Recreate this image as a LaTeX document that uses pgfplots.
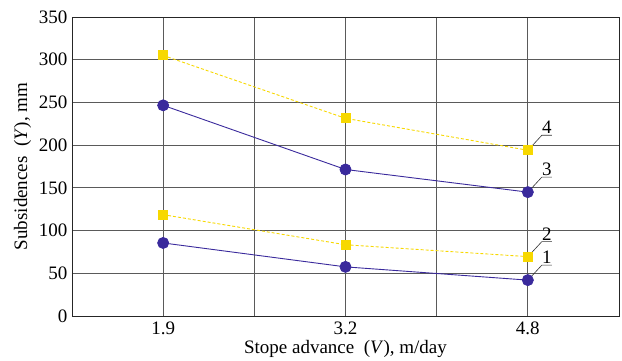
\documentclass[border=0pt]{standalone}
\usepackage{pgfplots}
\pgfplotsset{compat=1.18}
\usepackage{fontspec}
\setmainfont{Liberation Serif}
\definecolor{cblue}{HTML}{3A2A9C}
\definecolor{cyell}{HTML}{F7D800}
\definecolor{cgrid}{HTML}{5A5A5A}
\tikzset{leader/.style={black!80, line width=0.6pt}, lab/.style={midway, above, inner sep=1pt, text=black, font=\fontsize{19}{21}\selectfont}}
\begin{document}
\begin{tikzpicture}
\path[use as bounding box] (-72pt,-45pt) rectangle (550pt,316pt);
\begin{axis}[
  scale only axis, width=547pt, height=299pt,
  at={(0,0)}, anchor=south west,
  xmin=-0.5, xmax=2.5, ymin=0, ymax=350,
  xtick={0,1,2}, xticklabels={1.9,3.2,4.8},
  minor xtick={0.5,1.5},
  ytick={0,50,...,350},
  grid=both,
  major grid style={cgrid, line width=0.9pt},
  minor grid style={cgrid, line width=0.9pt},
  axis line style={black!85, line width=0.9pt},
  major tick length=0pt, minor tick length=0pt,
  tick label style={font=\fontsize{19}{21}\selectfont},
  /pgf/number format/assume math mode=true,
  yticklabel style={xshift=-1pt},
  xticklabel style={yshift=-2pt},
  label style={font=\fontsize{19}{21}\selectfont},
  xlabel={Stope advance\ \ (\textit{V}), m/day},
  ylabel={Subsidences\ \ (\textit{Y}), mm},
  xlabel style={yshift=1pt},
  ylabel style={yshift=1pt},
  clip=false,
]
\addplot[cblue, line width=0.9pt, mark=*, mark size=5.5pt, mark options={solid, fill=cblue}]
  coordinates {(0,85.5) (1,57.5) (2,42)};
\addplot[cyell, line width=0.9pt, densely dashed, mark=square*, mark size=4.5pt, mark options={solid, fill=cyell}]
  coordinates {(0,118.6) (1,83.4) (2,69.5)};
\addplot[cblue, line width=0.9pt, mark=*, mark size=5.5pt, mark options={solid, fill=cblue}]
  coordinates {(0,246.6) (1,171.5) (2,145)};
\addplot[cyell, line width=0.9pt, densely dashed, mark=square*, mark size=4.5pt, mark options={solid, fill=cyell}]
  coordinates {(0,305) (1,231.4) (2,194)};
\draw[leader] ([shift={(2pt,2pt)}]axis cs:2,42) -- ++(12pt,13pt) -- ++(10pt,0pt) node[lab] {1};
\draw[leader] ([shift={(2pt,2pt)}]axis cs:2,69.5) -- ++(12pt,13pt) -- ++(10pt,0pt) node[lab] {2};
\draw[leader] ([shift={(2pt,2pt)}]axis cs:2,145) -- ++(12pt,13pt) -- ++(10pt,0pt) node[lab] {3};
\draw[leader] ([shift={(2pt,2pt)}]axis cs:2,194) -- ++(12pt,13pt) -- ++(10pt,0pt) node[lab] {4};
\end{axis}
\end{tikzpicture}
\end{document}
